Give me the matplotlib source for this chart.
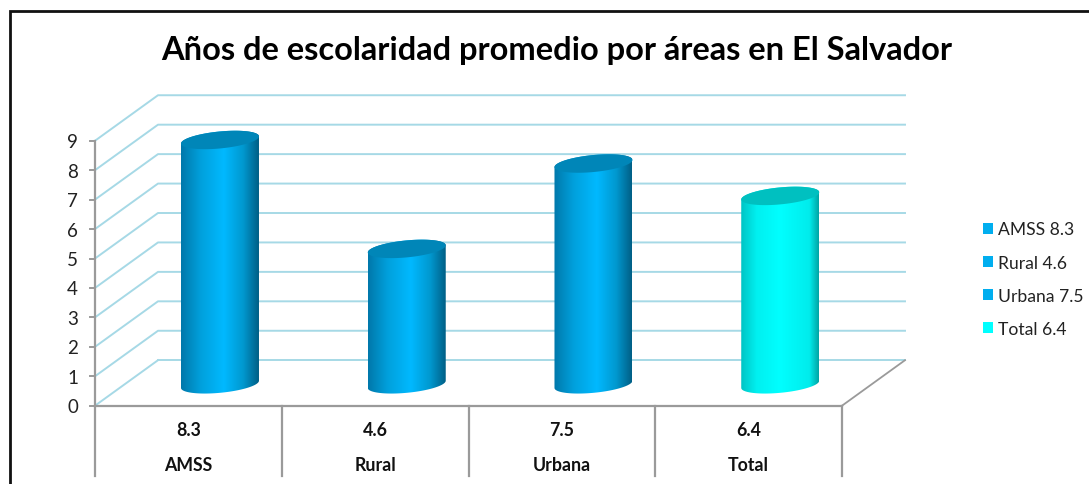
import numpy as np
import matplotlib
matplotlib.use("Agg")
import matplotlib.pyplot as plt
from matplotlib.colors import LinearSegmentedColormap
from matplotlib.patches import Patch, PathPatch, Rectangle
from matplotlib.path import Path

categories = ["AMSS", "Rural", "Urbana", "Total"]
values = [8.3, 4.6, 7.5, 6.4]
value_labels = ["8.3", "4.6", "7.5", "6.4"]
legend_labels = ["AMSS 8.3", "Rural 4.6", "Urbana 7.5", "Total 6.4"]
y_ticks = list(range(0, 10))
title = "Años de escolaridad promedio por áreas en El Salvador"

W, H = 1089, 485
PX_X = 186.75   # pixels per category
PX_Y = 29.44    # pixels per unit
X0, Y0 = 95.0, 406.7
plt.rcParams["font.family"] = ["Lato", "DejaVu Sans"]

fig = plt.figure(figsize=(W / 100, H / 100), dpi=100, facecolor="white")
ax = fig.add_axes([0, 0, 1, 1])
ax.set_xlim(-X0 / PX_X, (W - X0) / PX_X)
ax.set_ylim(-(H - Y0) / PX_Y, Y0 / PX_Y)
ax.axis("off")

DX, DY = 63.0 / PX_X, 45.5 / PX_Y  # oblique depth
GRID = "#a6d9e6"
AXC = "#9a9a9a"
n = len(categories)

# outer frame (runs off the right and bottom of the image)
fx0, fx1 = -(X0 - 10) / PX_X, (W + 10 - X0) / PX_X
fy1 = (Y0 - 11.5) / PX_Y
fy0 = -(H + 10 - Y0) / PX_Y
ax.add_patch(Rectangle((fx0, fy0), fx1 - fx0, fy1 - fy0, fill=False, ec="#111111", lw=2, zorder=1))

# wall gridlines
for v in y_ticks:
    if v == 0:
        ax.plot([0, DX], [0, DY], color=GRID, lw=1.4, zorder=2)
        ax.plot([DX, n + DX], [DY, DY], color=GRID, lw=1.4, zorder=2)
    else:
        ax.plot([0, DX, n + DX], [v, v + DY, v + DY], color=GRID, lw=1.4, zorder=2)

# floor + axis
ax.plot([n, n + DX], [0, DY], color=AXC, lw=1.3, zorder=2)
ax.plot([0, n], [0, 0], color=AXC, lw=1.6, zorder=3)
ax.plot([0, 0], [0, 9], color=AXC, lw=1.6, zorder=3)
for v in y_ticks:
    ax.plot([-5 / PX_X, 0], [v, v], color=AXC, lw=1.4, zorder=3)
    ax.text(-17 / PX_X, v - 1 / PX_Y, str(v), ha="right", va="center", fontsize=13.5, color="#222222", zorder=5)

# category table
for i in range(n + 1):
    ax.plot([i, i], [0, -70 / PX_Y], color=AXC, lw=1.6, zorder=3)
for i in range(n):
    ax.text(i + 0.5, -24 / PX_Y, value_labels[i], ha="center", va="center",
            fontsize=12.8, fontweight="bold", color="#111111", zorder=5)
    ax.text(i + 0.5, -59 / PX_Y, categories[i], ha="center", va="center",
            fontsize=12.8, fontweight="bold", color="#111111", zorder=5)

# cylinders
blue = LinearSegmentedColormap.from_list("b", [(0, "#0078aa"), (0.25, "#00a0dc"), (0.55, "#00b9ff"),
                                               (0.8, "#0098cf"), (1, "#005f86")])
cyan = LinearSegmentedColormap.from_list("c", [(0, "#00c4c4"), (0.2, "#00f0f0"), (0.5, "#00ffff"),
                                               (0.88, "#00ecec"), (1, "#00a4a4")])
cmaps = [blue, blue, blue, cyan]
caps = ["#0086b8", "#0086b8", "#0086b8", "#00c0c0"]
legend_colors = ["#00aeef", "#00aeef", "#00aeef", "#00ffff"]
gradient = np.linspace(0, 1, 256).reshape(1, -1)

A = 39.0 / PX_X
B = 8.5 / PX_Y
S = 3.6 / PX_Y
frac = 0.47
t = np.linspace(0, 2 * np.pi, 121)

def ellipse(cx, cy):
    return cx + A * np.cos(t), cy + B * np.sin(t) + S * np.cos(t)

for i, v in enumerate(values):
    cx = i + 0.5 + frac * DX + 2 / PX_X
    cy0 = frac * DY
    cy1 = cy0 + v
    xt, yt = ellipse(cx, cy1)
    # body outline: lower half of the base, then upper half of the top
    tt = np.linspace(np.pi, 2 * np.pi, 60)
    bx = cx + A * np.cos(tt); by = cy0 + B * np.sin(tt) + S * np.cos(tt)
    tx = cx + A * np.cos(tt[::-1]); ty = cy1 - B * np.sin(tt[::-1]) + S * np.cos(tt[::-1])
    verts = np.vstack([np.column_stack([bx, by]), np.column_stack([tx, ty]), [[bx[0], by[0]]]])
    poly = PathPatch(Path(verts), fc="none", ec="none", zorder=4)
    ax.add_patch(poly)
    im = ax.imshow(gradient, extent=[cx - A, cx + A, cy0 - 2, cy1 + 2], aspect="auto",
                   cmap=cmaps[i], zorder=4, interpolation="bilinear")
    im.set_clip_path(poly)
    ax.fill(xt, yt, color=caps[i], lw=0, zorder=4.5)

ax.set_xlim(-X0 / PX_X, (W - X0) / PX_X)
ax.set_ylim(-(H - Y0) / PX_Y, Y0 / PX_Y)

# legend
handles = [Patch(fc=c, ec="none") for c in legend_colors]
leg_ax_x = 983 / W
leg_ax_y = 1 - 222.5 / H
ax.legend(handles, legend_labels, loc="upper left", bbox_to_anchor=(leg_ax_x, leg_ax_y),
          bbox_transform=fig.transFigure, frameon=False, fontsize=12.6, labelcolor="#222222",
          handlelength=0.58, handleheight=0.58, handletextpad=0.27, labelspacing=0.98,
          borderpad=0, borderaxespad=0)

ax.text((557 - X0) / PX_X, (Y0 - 51) / PX_Y, title, ha="center", va="center",
        fontsize=23.5, fontweight="bold", color="#000000", zorder=5)

fig.savefig("out.png", dpi=100)
